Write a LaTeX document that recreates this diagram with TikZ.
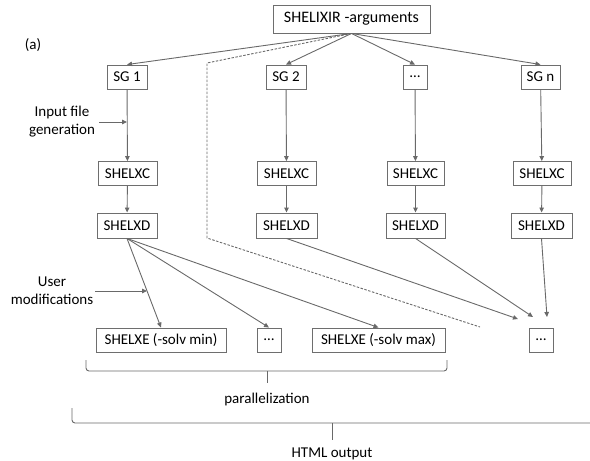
\documentclass[tikz,border=0pt]{standalone}
\usepackage{fontspec}
\setmainfont{Carlito}
\usetikzlibrary{arrows.meta,calc}
\definecolor{linec}{RGB}{105,105,105}
\definecolor{boxc}{RGB}{110,110,110}
\begin{document}
\begin{tikzpicture}[x=1pt,y=-1pt,
  box/.style={draw=boxc, line width=0.9pt, minimum height=24pt, inner sep=0pt,
              font=\fontsize{15}{18}\selectfont, text=black},
  lbl/.style={font=\fontsize{15}{18}\selectfont, align=center, inner sep=0pt, text=black},
  arr/.style={draw=linec, line width=0.9pt, -{Triangle[length=5pt,width=4.5pt]}},
  dsh/.style={draw=linec, line width=0.9pt, dash pattern=on 2.5pt off 1.5pt},
  brc/.style={draw=linec, line width=0.9pt}]
\useasboundingbox (0,0) rectangle (590,461);
% boxes
\node[box, minimum width=157pt, minimum height=28pt, font=\fontsize{16}{19}\selectfont] (top) at (351.5,19) {SHELIXIR -arguments};
\node[box, minimum width=40pt] (sg1) at (127,77) {SG 1};
\node[box, minimum width=40pt] (sg2) at (286,77) {SG 2};
\node[box, minimum width=24pt] (sgd) at (415,77) {\ldots};
\node[box, minimum width=39pt] (sgn) at (540.5,77) {SG n};
\node[box, minimum width=59pt] (xc1) at (127.5,173.5) {SHELXC};
\node[box, minimum width=59pt] (xc2) at (286.5,173.5) {SHELXC};
\node[box, minimum width=57pt] (xc3) at (415.5,173.5) {SHELXC};
\node[box, minimum width=58pt] (xcn) at (542,173.5) {SHELXC};
\node[box, minimum width=60pt, minimum height=25pt] (xd1) at (127,225.5) {SHELXD};
\node[box, minimum width=61pt, minimum height=25pt] (xd2) at (286.5,225.5) {SHELXD};
\node[box, minimum width=59pt, minimum height=25pt] (xd3) at (415.5,225.5) {SHELXD};
\node[box, minimum width=61pt, minimum height=25pt] (xdn) at (541.5,225.5) {SHELXD};
\node[box, minimum width=130pt] (xe1) at (161,340) {SHELXE (-solv min)};
\node[box, minimum width=24pt] (dm) at (269,340) {\ldots};
\node[box, minimum width=133pt] (xe2) at (378.5,340) {SHELXE (-solv max)};
\node[box, minimum width=24pt] (dr) at (541,340) {\ldots};
% labels
\node[lbl] (a) at (33,45) {(a)};
\node[lbl] (inp) at (62,122) {Input file\\generation};
\node[lbl] (um) at (52,291) {User\\modifications};
\node[lbl] (par) at (267,399) {parallelization};
\node[lbl] (html) at (332,454) {HTML output};
% coordinates
\coordinate (umt) at (147,291);
\coordinate (e2) at (518,319);
\coordinate (e3) at (533,317);
\coordinate (e4) at (547,317);
\coordinate (d1) at (207,63);
\coordinate (d2) at (207,238);
\coordinate (d3) at (480,327);
% connectors
\draw[arr] (top.south) -- (sg1.north);
\draw[arr] (top.south) -- (sg2.north);
\draw[arr] (top.south) -- (sgd.north);
\draw[arr] (top.south) -- (sgn.north);
\draw[dsh] (top.south) -- (d1) -- (d2) -- (d3);
\draw[arr] (sg1) -- (xc1);
\draw[arr] (sg2) -- (xc2);
\draw[arr] (sgd) -- (xc3);
\draw[arr] (sgn) -- (xcn);
\draw[arr] (xc1) -- (xd1);
\draw[arr] (xc2) -- (xd2);
\draw[arr] (xc3) -- (xd3);
\draw[arr] (xcn) -- (xdn);
\draw[arr] (inp.east) ++(4,0) -- (inp.east -| sg1.south);
\draw[arr] (xd1.south) -- (xe1.north);
\draw[arr] (xd1.south) -- (dm.north);
\draw[arr] (xd1.south) -- (xe2.north);
\draw[arr] (um.east) ++(2,0) -- (umt);
\draw[arr] (xd2.south) -- (e2);
\draw[arr] (xd3.south) -- (e3);
\draw[arr] (xdn.south) -- (e4);
% braces
\draw[brc, rounded corners=3pt] (86,360) -- (86,371) -- (447,371) -- (447,360);
\draw[brc] (267,371) -- (267,383);
\draw[brc, rounded corners=3pt] (72,408) -- (72,423) -- (595,423);
\draw[brc] (332,423) -- (332,440);
\end{tikzpicture}
\end{document}
